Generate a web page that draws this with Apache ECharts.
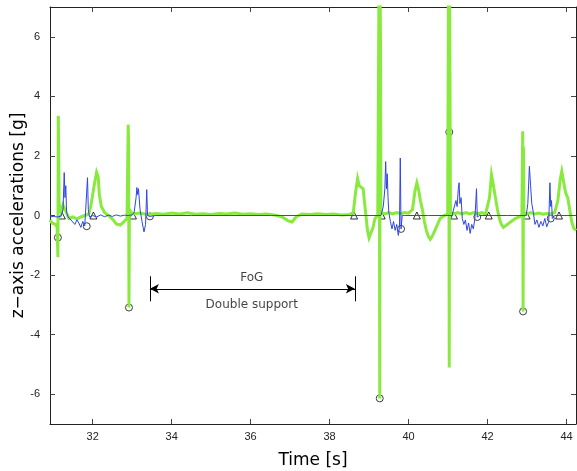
<!DOCTYPE html>
<html>
<head>
<meta charset="utf-8">
<script src="https://cdn.jsdelivr.net/npm/echarts@6/dist/echarts.min.js"></script>
<style>
  html, body { margin: 0; padding: 0; background: #fff; }
  #chart { width: 577px; height: 471px; }
</style>
</head>
<body>
<div id="chart"></div>
<script>
// tick labels
const xTicks = [32, 34, 36, 38, 40, 42, 44]
const yTicks = [-6, -4, -2, 0, 2, 4, 6]

// green trace (thick), [time s, accel g]
const greenData = [
  [30.92,-0.15],[30.97,-0.25],[31.02,-0.2],[31.06,-0.3],[31.10,-0.4],[31.12,-1.4],[31.13,3.35],[31.14,2.2],[31.15,0.4],
  [31.2,0.1],[31.25,0.35],[31.3,0.2],[31.35,0.05],[31.4,-0.1],[31.5,-0.05],[31.6,-0.12],[31.7,-0.05],
  [31.8,0.0],[31.9,0.05],[31.95,0.3],[32.0,0.7],[32.05,1.1],[32.1,1.45],[32.14,1.3],[32.17,0.7],
  [32.22,0.3],[32.3,0.1],[32.4,0.0],[32.5,-0.12],[32.6,-0.28],[32.7,-0.32],[32.8,-0.2],[32.87,-0.1],
  [32.9,3.05],[32.91,2.4],[32.92,-3.09],[32.93,0.2],[33.0,0.05],[33.2,0.08],[33.4,0.03],[33.6,0.07],
  [33.8,0.04],[34.0,0.08],[34.2,0.05],[34.4,0.09],[34.6,0.04],[34.8,0.06],[35.0,0.03],[35.2,0.07],
  [35.4,0.05],[35.6,0.08],[35.8,0.04],[36.0,0.06],[36.2,0.03],[36.4,0.05],[36.6,0.02],[36.8,-0.05],
  [36.95,-0.18],[37.05,-0.22],[37.15,-0.05],[37.3,0.05],[37.5,0.03],[37.7,0.06],[37.9,0.03],[38.1,0.05],
  [38.3,0.02],[38.5,0.03],[38.6,0.1],[38.66,0.8],[38.71,1.24],[38.75,1.0],[38.8,0.95],[38.85,0.9],
  [38.88,0.5],[38.92,0.0],[38.96,-0.5],[39.0,-0.75],[39.05,-0.7],[39.1,-0.4],[39.15,-0.1],[39.22,0.0],
  [39.25,7.5],[39.26,5.8],[39.27,-6.14],[39.28,7.5],[39.29,5.8],[39.3,0.1],[39.4,0.05],[39.5,0.1],[39.6,0.05],
  [39.7,0.1],[39.8,0.06],[39.9,0.1],[40.0,0.08],[40.1,0.2],[40.16,0.8],[40.21,1.1],[40.25,0.9],
  [40.3,0.5],[40.35,0.2],[40.4,-0.2],[40.45,-0.5],[40.5,-0.7],[40.55,-0.8],[40.6,-0.7],[40.7,-0.4],
  [40.8,-0.1],[40.9,0.0],[40.99,0.05],[41.01,7.5],[41.02,4.2],[41.03,-5.1],[41.04,7.5],[41.05,4.2],[41.06,0.1],
  [41.15,0.05],[41.25,0.1],[41.35,0.05],[41.45,0.1],[41.55,0.05],[41.65,0.1],[41.75,0.06],[41.85,0.1],
  [41.95,0.05],[42.0,0.1],[42.05,0.6],[42.1,1.37],[42.15,1.0],[42.2,0.6],[42.25,0.2],[42.3,-0.1],
  [42.35,-0.3],[42.4,-0.4],[42.5,-0.3],[42.6,-0.2],[42.7,-0.1],[42.8,-0.05],[42.87,0.0],[42.89,2.83],
  [42.9,-3.22],[42.91,2.3],[42.92,0.1],[43.0,0.05],[43.1,0.1],[43.2,0.05],[43.3,0.08],[43.4,0.04],
  [43.5,0.07],[43.6,0.05],[43.7,0.1],[43.78,0.5],[43.84,1.2],[43.88,1.48],[43.93,1.1],[43.98,0.75],
  [44.03,0.6],[44.08,0.2],[44.13,-0.2],[44.18,-0.42],[44.24,-0.5]
]

// blue trace (thin)
const blueData = [
  [30.92,-0.05],[31.0,-0.03],[31.1,-0.05],[31.2,-0.02],[31.25,0.2],[31.28,1.44],[31.3,0.6],[31.32,1.0],
  [31.34,0.1],[31.38,-0.05],[31.45,-0.15],[31.5,-0.1],[31.55,-0.3],[31.6,-0.15],[31.65,-0.25],[31.7,-0.4],
  [31.75,-0.2],[31.8,-0.35],[31.84,-0.3],[31.87,1.27],[31.89,0.2],[31.92,-0.05],[32.0,0.0],[32.1,-0.05],
  [32.2,0.02],[32.3,-0.04],[32.4,0.01],[32.5,-0.03],[32.6,0.02],[32.7,-0.02],[32.8,0.01],[32.9,0.0],
  [33.0,0.02],[33.05,0.1],[33.1,0.6],[33.12,0.94],[33.14,0.7],[33.16,0.9],[33.2,0.2],[33.25,-0.2],
  [33.3,-0.55],[33.34,-0.3],[33.37,0.87],[33.39,0.0],[33.45,-0.03],[33.6,0.0],[34.5,0.0],[35.5,0.0],
  [36.5,0.0],[37.5,0.0],[38.5,0.0],[39.3,0.0],[39.36,0.3],[39.4,0.9],[39.42,1.81],[39.44,0.9],
  [39.46,1.4],[39.48,0.6],[39.5,0.1],[39.54,-0.2],[39.58,-0.45],[39.62,-0.2],[39.66,-0.5],[39.7,-0.3],
  [39.74,-0.67],[39.77,-0.4],[39.79,1.93],[39.81,-0.45],[39.84,0.0],[39.9,0.0],[40.5,0.0],[41.1,0.0],
  [41.15,0.05],[41.2,0.5],[41.23,0.3],[41.26,0.9],[41.28,1.1],[41.3,0.4],[41.33,0.6],[41.36,-0.1],
  [41.4,-0.3],[41.44,-0.15],[41.48,-0.5],[41.52,-0.25],[41.56,-0.6],[41.6,-0.3],[41.64,-0.45],[41.68,-0.1],
  [41.72,0.9],[41.74,-0.05],[41.8,0.0],[42.5,0.0],[42.98,0.0],[43.02,0.4],[43.06,1.65],[43.09,1.0],
  [43.12,0.4],[43.16,0.1],[43.2,-0.3],[43.25,-0.15],[43.3,-0.4],[43.35,-0.2],[43.4,-0.35],[43.45,-0.1],
  [43.5,-0.38],[43.55,-0.2],[43.58,1.1],[43.6,0.3],[43.62,0.5],[43.64,-0.1],[43.7,0.0],[44.24,0.0]
]

// event markers
const triangles = [[31.22,0],[32.02,0],[33.02,0],[38.62,0],[39.32,0],[40.21,0],[41.15,0],[42.03,0],[42.99,0],[43.81,0]]
const circles = [[31.12,-0.74],[31.85,-0.36],[32.92,-3.09],[33.45,-0.03],[39.27,-6.14],[39.81,-0.45],[41.03,2.8],[41.74,-0.05],[42.9,-3.22],[43.6,-0.1]]

// FoG annotation: span, arrow level, end bar extent, text positions
const fogSpan = [33.45, 38.64]
const fogLevel = -2.46
const fogBar = [-2.04, -2.88]
const fogTexts = [['FoG', 36.03, -2.1], ['Double support', 36.03, -3.0]]

const FONT = 'Liberation Sans'
const chart = echarts.init(document.getElementById('chart'))

const spanLines = [
  [{coord: [fogSpan[0], fogLevel], symbol: 'none'}, {coord: [fogSpan[1], fogLevel], symbol: 'arrow'}],
  [{coord: [fogSpan[1], fogLevel], symbol: 'none'}, {coord: [fogSpan[0], fogLevel], symbol: 'arrow'}],
  [{coord: [fogSpan[0], fogBar[0]], symbol: 'none'}, {coord: [fogSpan[0], fogBar[1]], symbol: 'none'}],
  [{coord: [fogSpan[1], fogBar[0]], symbol: 'none'}, {coord: [fogSpan[1], fogBar[1]], symbol: 'none'}]
]

const axisCommon = {
  axisLine: {show: true, onZero: false, lineStyle: {color: '#222', width: 1}},
  axisTick: {show: true, inside: true, length: 5, lineStyle: {color: '#444'}},
  splitLine: {show: false}
}

chart.setOption({
  animation: false,
  backgroundColor: '#fff',
  grid: {left: 50, right: 1, top: 7, bottom: 47, containLabel: false, outerBoundsMode: 'none'},
  xAxis: [
    Object.assign({}, axisCommon, {
      type: 'value', min: 30.92, max: 44.24,
      name: 'Time [s]', nameLocation: 'middle', nameGap: 28, nameMoveOverlap: false,
      nameTextStyle: {fontFamily: 'DejaVu Sans', fontSize: 17, color: '#000'},
      axisTick: Object.assign({}, axisCommon.axisTick, {customValues: xTicks}),
      axisLabel: {customValues: xTicks, fontFamily: FONT, fontSize: 11, color: '#222', margin: 7}
    }),
    Object.assign({}, axisCommon, {
      type: 'value', min: 30.92, max: 44.24, position: 'top',
      axisTick: Object.assign({}, axisCommon.axisTick, {customValues: xTicks}),
      axisLabel: {show: false}
    })
  ],
  yAxis: [
    Object.assign({}, axisCommon, {
      type: 'value', min: -7, max: 7,
      name: 'z\u2212axis accelerations [g]', nameLocation: 'middle', nameGap: 23, nameMoveOverlap: false,
      nameTextStyle: {fontFamily: 'DejaVu Sans', fontSize: 17, color: '#000'},
      axisTick: Object.assign({}, axisCommon.axisTick, {customValues: yTicks}),
      axisLabel: {customValues: yTicks, fontFamily: FONT, fontSize: 11, color: '#222', margin: 10}
    }),
    Object.assign({}, axisCommon, {
      type: 'value', min: -7, max: 7, position: 'right',
      axisTick: Object.assign({}, axisCommon.axisTick, {customValues: yTicks}),
      axisLabel: {show: false}
    })
  ],
  series: [
    {
      type: 'line', data: greenData, showSymbol: false, clip: true,
      lineStyle: {color: '#88ea3e', width: 3, join: 'miter'}
    },
    {
      type: 'line', data: blueData, showSymbol: false, clip: true,
      lineStyle: {color: '#2f45e6', width: 1},
      markLine: {
        silent: true, symbolSize: [7, 9], label: {show: false},
        lineStyle: {color: '#000', width: 1, type: 'solid'},
        data: spanLines
      }
    },
    {
      type: 'scatter', data: triangles, symbol: 'triangle', symbolSize: 7,
      itemStyle: {color: 'rgba(0,0,0,0)', borderColor: '#000', borderWidth: 1}
    },
    {
      type: 'scatter', data: circles, symbol: 'circle', symbolSize: 7,
      itemStyle: {color: 'rgba(0,0,0,0)', borderColor: '#111', borderWidth: 1}
    },
    {
      type: 'scatter', symbolSize: 0, silent: true,
      data: fogTexts.map(t => ({value: [t[1], t[2]], name: t[0]})),
      label: {
        show: true, position: 'inside', formatter: p => p.name,
        fontFamily: 'DejaVu Sans', fontSize: 12, color: '#111'
      }
    }
  ]
})
</script>
</body>
</html>
